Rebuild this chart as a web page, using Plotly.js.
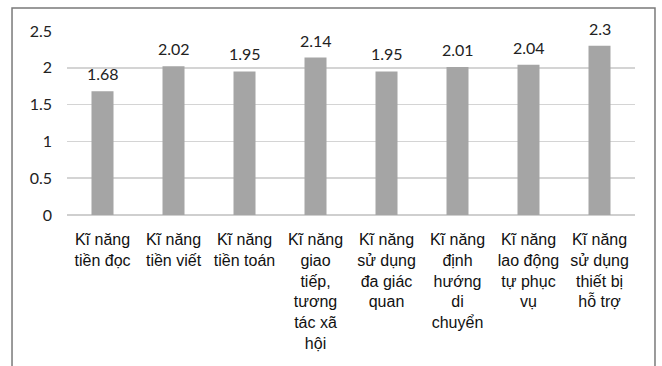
<!DOCTYPE html>
<html>
<head>
<meta charset="utf-8">
<script src="https://cdn.plot.ly/plotly-3.0.1.min.js"></script>
<style>html,body{margin:0;padding:0;background:#fff;}#chart{width:662px;height:366px;}</style>
</head>
<body>
<div id="chart"></div>
<script>
var categories = [
  "Kĩ năng<br>tiền đọc",
  "Kĩ năng<br>tiền viết",
  "Kĩ năng<br>tiền toán",
  "Kĩ năng<br>giao<br>tiếp,<br>tương<br>tác xã<br>hội",
  "Kĩ năng<br>sử dụng<br>đa giác<br>quan",
  "Kĩ năng<br>định<br>hướng<br>di<br>chuyển",
  "Kĩ năng<br>lao động<br>tự phục<br>vụ",
  "Kĩ năng<br>sử dụng<br>thiết bị<br>hỗ trợ"
];
var values = [1.68, 2.02, 1.95, 2.14, 1.95, 2.01, 2.04, 2.3];
var valueLabels = ["1.68", "2.02", "1.95", "2.14", "1.95", "2.01", "2.04", "2.3"];
var yTicks = [0, 0.5, 1, 1.5, 2, 2.5];
var yTickText = ["0", "0.5", "1", "1.5", "2", "2.5"];

var trace = {
  type: "bar",
  x: categories,
  y: values,
  marker: {color: "#a5a5a5"},
  width: 0.31,
  hoverinfo: "none"
};

var annotations = categories.map(function(c, i) {
  return {
    x: c, y: values[i], xref: "x", yref: "y",
    text: valueLabels[i], showarrow: false,
    yanchor: "bottom", yshift: 6,
    font: {family: "Lato, 'Open Sans', sans-serif", size: 16, color: "#222"}
  };
});

var layout = {
  width: 662, height: 366,
  margin: {l: 67, r: 27, t: 31, b: 151},
  paper_bgcolor: "#fff", plot_bgcolor: "#fff",
  showlegend: false,
  bargap: 0.69,
  xaxis: {
    type: "category",
    showgrid: false,
    showline: false,
    zeroline: false,
    ticks: "",
    tickfont: {family: "'Liberation Sans', Arial, sans-serif", size: 16, color: "#111"},
    ticklabelstandoff: 13,
    tickangle: 0,
    automargin: false
  },
  yaxis: {
    range: [0, 2.5],
    tickvals: yTicks,
    ticktext: yTickText,
    showgrid: true,
    gridcolor: "#d4d4d4",
    gridwidth: 1.5,
    zeroline: true,
    zerolinecolor: "#cfcfcf",
    zerolinewidth: 1.5,
    showline: false,
    ticks: "",
    ticklabelstandoff: 14,
    tickfont: {family: "Lato, 'Open Sans', sans-serif", size: 16, color: "#222"},
    automargin: false
  },
  annotations: annotations,
  shapes: [{
    type: "rect", xref: "paper", yref: "paper",
    x0: -0.0968, x1: 1.0352, y0: -0.9, y1: 1.125,
    line: {color: "#7a7a7a", width: 1.5},
    layer: "below"
  }]
};

Plotly.newPlot("chart", [trace], layout, {displayModeBar: false, staticPlot: true});
</script>
</body>
</html>
